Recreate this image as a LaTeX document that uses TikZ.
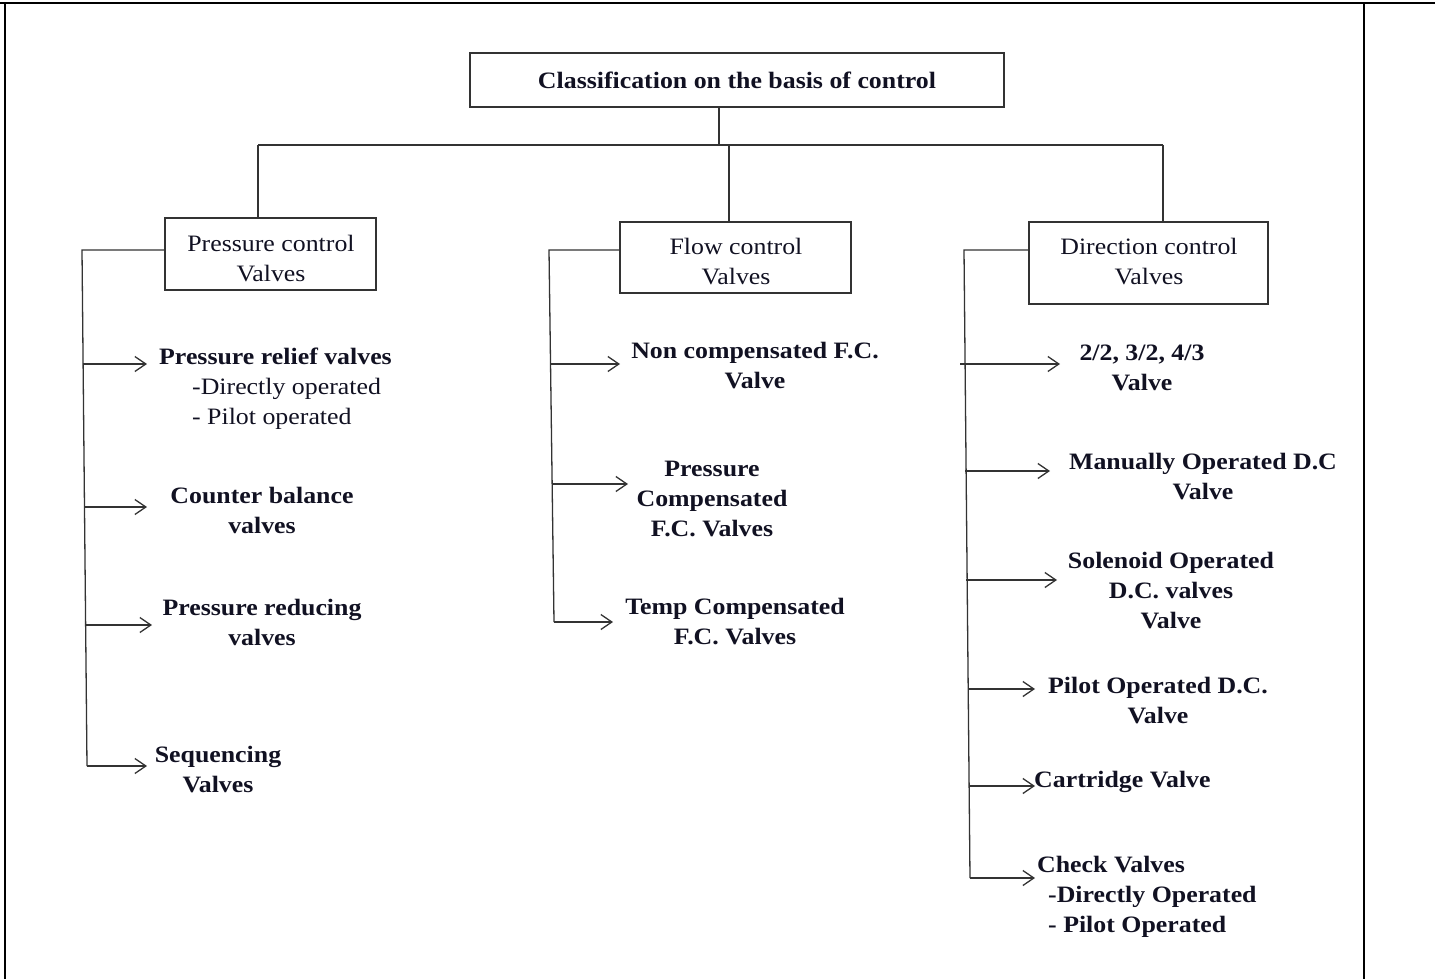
\documentclass[tikz,border=0pt]{standalone}
\usepackage{fontspec}
\setmainfont{Liberation Serif}[FakeStretch=1.1]
\usetikzlibrary{arrows.meta}
\definecolor{ln}{HTML}{333333}
\definecolor{tx}{HTML}{111122}
\newcommand\myfs{\fontsize{23.5}{30}\selectfont}
\tikzset{
  box/.style={draw=ln, line width=1.4pt, rectangle, inner sep=0pt, align=center, text=tx, font=\myfs},
  boxtxt/.style={inner sep=0pt, align=center, text=tx, font=\myfs},
  lbl/.style={inner sep=0pt, align=center, text=tx, font=\myfs\bfseries},
  lbll/.style={inner sep=0pt, align=left, text=tx, anchor=west, font=\myfs},
  lblb/.style={lbll, font=\myfs\bfseries},
  conn/.style={draw=ln, line width=1.3pt},
  arr/.style={draw=ln, line width=1.3pt, -{Straight Barb[length=11pt,width=15pt,line width=1.3pt]}},
  frame/.style={draw=black, line width=2pt}
}
\begin{document}
\begin{tikzpicture}[x=1pt, y=-1pt]
\useasboundingbox (0,0) rectangle (1435,979);
% table frame
\draw[frame] (0,3.5) -- (1435,3.5);
\draw[frame] (4.5,3.5) -- (4.5,979);
\draw[frame] (1364,3.5) -- (1364,979);

% main boxes
\node[box, minimum width=534pt, minimum height=54pt] (root) at (737,80) {\textbf{Classification on the basis of control}};
\node[box, minimum width=211pt, minimum height=72pt] (pcv) at (270.5,254) {};
\node[boxtxt] (pcvt) at (271,259) {Pressure control\\Valves};
\node[box, minimum width=231pt, minimum height=71pt] (fcv) at (735.5,257.5) {};
\node[boxtxt] (fcvt) at (736,262) {Flow control\\Valves};
\node[box, minimum width=239pt, minimum height=82pt] (dcv) at (1148.5,263) {};
\node[boxtxt] (dcvt) at (1149,262) {Direction control\\Valves};

% tree connectors
\coordinate (j0) at (719,145);
\coordinate (jl) at (258,145);
\coordinate (jm) at (729,145);
\coordinate (jr) at (1163,145);
\draw[conn] (j0 |- root.south) -- (j0);
\draw[conn] (jl) -- (jr);
\draw[conn] (jl) -- (jl |- pcv.north);
\draw[conn] (jm) -- (jm |- fcv.north);
\draw[conn] (jr) -- (jr |- dcv.north);

% pressure control items
\node[lbll] (pr) at (159,389) {\textbf{Pressure relief valves}\\\hspace*{33pt}-Directly operated\\\hspace*{33pt}- Pilot operated};
\node[lbl] (cb) at (262,510.5) {Counter balance\\valves};
\node[lbl] (prd) at (262,622.5) {Pressure reducing\\valves};
\node[lbl] (seq) at (218,770) {Sequencing\\Valves};

\coordinate (ps0) at (82,250);
\coordinate (ps1) at (83,364);
\coordinate (ps2) at (84.5,507);
\coordinate (ps3) at (86,625);
\coordinate (ps4) at (87,766);
\coordinate (pt1) at (147,364);
\coordinate (pt2) at (147,507);
\coordinate (pt3) at (152,625);
\coordinate (pt4) at (147,766);
\draw[conn] (pcv.west |- ps0) -- (ps0) -- (ps4);
\draw[arr] (ps1) -- (pt1);
\draw[arr] (ps2) -- (pt2);
\draw[arr] (ps3) -- (pt3);
\draw[arr] (ps4) -- (pt4);

% flow control items
\node[lbl] (nc) at (755,366) {Non compensated F.C.\\Valve};
\node[lbl] (pc) at (712,499) {Pressure\\Compensated\\F.C. Valves};
\node[lbl] (tc) at (735,622) {Temp Compensated\\F.C. Valves};

\coordinate (fs0) at (549,250);
\coordinate (fs1) at (550,364);
\coordinate (fs2) at (553,484);
\coordinate (fs3) at (554,622);
\coordinate (ft1) at (620,364);
\coordinate (ft2) at (628,484);
\coordinate (ft3) at (613,622);
\draw[conn] (fcv.west |- fs0) -- (fs0) -- (fs3);
\draw[arr] (fs1) -- (ft1);
\draw[arr] (fs2) -- (ft2);
\draw[arr] (fs3) -- (ft3);

% direction control items
\node[lbl] (d1) at (1142,367.5) {2/2, 3/2, 4/3\\Valve};
\node[lbl] (d2) at (1203,477) {Manually Operated D.C\\Valve};
\node[lbl] (d3) at (1171,591) {Solenoid Operated\\D.C. valves\\Valve};
\node[lbl] (d4) at (1158,700.5) {Pilot Operated D.C.\\Valve};
\node[lblb] (d5) at (1034,782) {Cartridge Valve};
\node[lblb] (d6) at (1037,897) {Check Valves\\\hspace*{11pt}-Directly Operated\\\hspace*{11pt}- Pilot Operated};

\coordinate (ds0) at (964,250);
\coordinate (ds1) at (960,364);
\coordinate (ds2) at (965,471);
\coordinate (ds3) at (966,580);
\coordinate (ds4) at (968,689);
\coordinate (ds5) at (969,786);
\coordinate (ds6) at (970,878);
\coordinate (dt1) at (1060,364);
\coordinate (dt2) at (1050,471);
\coordinate (dt3) at (1057,580);
\coordinate (dt4) at (1035,689);
\coordinate (dt5) at (1035,786);
\coordinate (dt6) at (1035,878);
\draw[conn] (dcv.west |- ds0) -- (ds0) -- (ds6);
\draw[arr] (ds1) -- (dt1);
\draw[arr] (ds2) -- (dt2);
\draw[arr] (ds3) -- (dt3);
\draw[arr] (ds4) -- (dt4);
\draw[arr] (ds5) -- (dt5);
\draw[arr] (ds6) -- (dt6);
\end{tikzpicture}
\end{document}
